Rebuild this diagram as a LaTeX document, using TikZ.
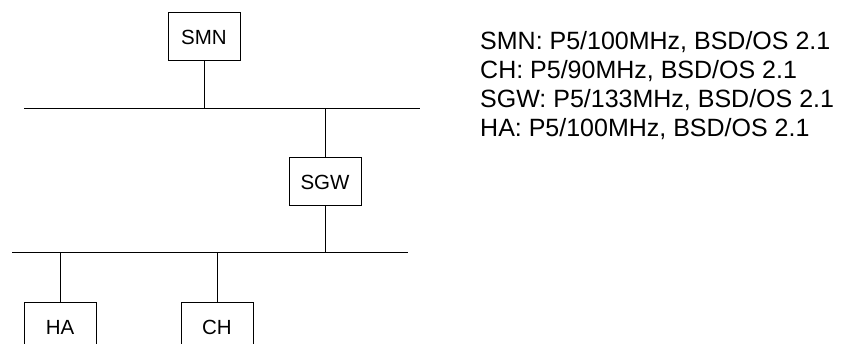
\documentclass[tikz,border=0pt]{standalone}
\usepackage{fontspec}
\setmainfont{Liberation Sans}
\usetikzlibrary{positioning}
\tikzset{
  host/.style={
    draw, line width=1pt, fill=white,
    minimum width=72pt, minimum height=48pt,
    inner sep=0pt, font=\fontsize{20.5}{24}\selectfont
  },
  wire/.style={line width=1pt},
  spec/.style={
    align=left, inner sep=0pt, anchor=north west,
    font=\fontsize{25}{29}\selectfont
  }
}
\begin{document}
\begin{tikzpicture}[x=1pt, y=1pt, node distance=96pt and 48pt]
\useasboundingbox (0,0) rectangle (841,344);

%% hosts
\node[host] (smn) at (204,307) {SMN};
\node[host, below right=96pt and 48pt of smn] (sgw) {SGW};
\node[host, below left=96pt and 192pt of sgw] (ha) {HA};
\node[host, right=84pt of ha] (ch) {CH};

%% networks
\coordinate (netAw) at (24,235.5);
\coordinate (netAe) at (420,235.5);
\coordinate (netBw) at (12,91);
\coordinate (netBe) at (408,91);
\draw[wire] (netAw) -- (netAe);
\draw[wire] (netBw) -- (netBe);

%% attachments
\draw[wire] (smn.south) -- (smn.south |- netAw);
\draw[wire] (sgw.north) -- (sgw.north |- netAw);
\draw[wire] (sgw.south) -- (sgw.south |- netBw);
\draw[wire] (ha.north) -- (ha.north |- netBw);
\draw[wire] (ch.north) -- (ch.north |- netBw);

%% machine list
\node[spec] (specs) at (480,312.5) {SMN: P5/100MHz, BSD/OS 2.1\\
CH: P5/90MHz, BSD/OS 2.1\\
SGW: P5/133MHz, BSD/OS 2.1\\
HA: P5/100MHz, BSD/OS 2.1};

\end{tikzpicture}
\end{document}
